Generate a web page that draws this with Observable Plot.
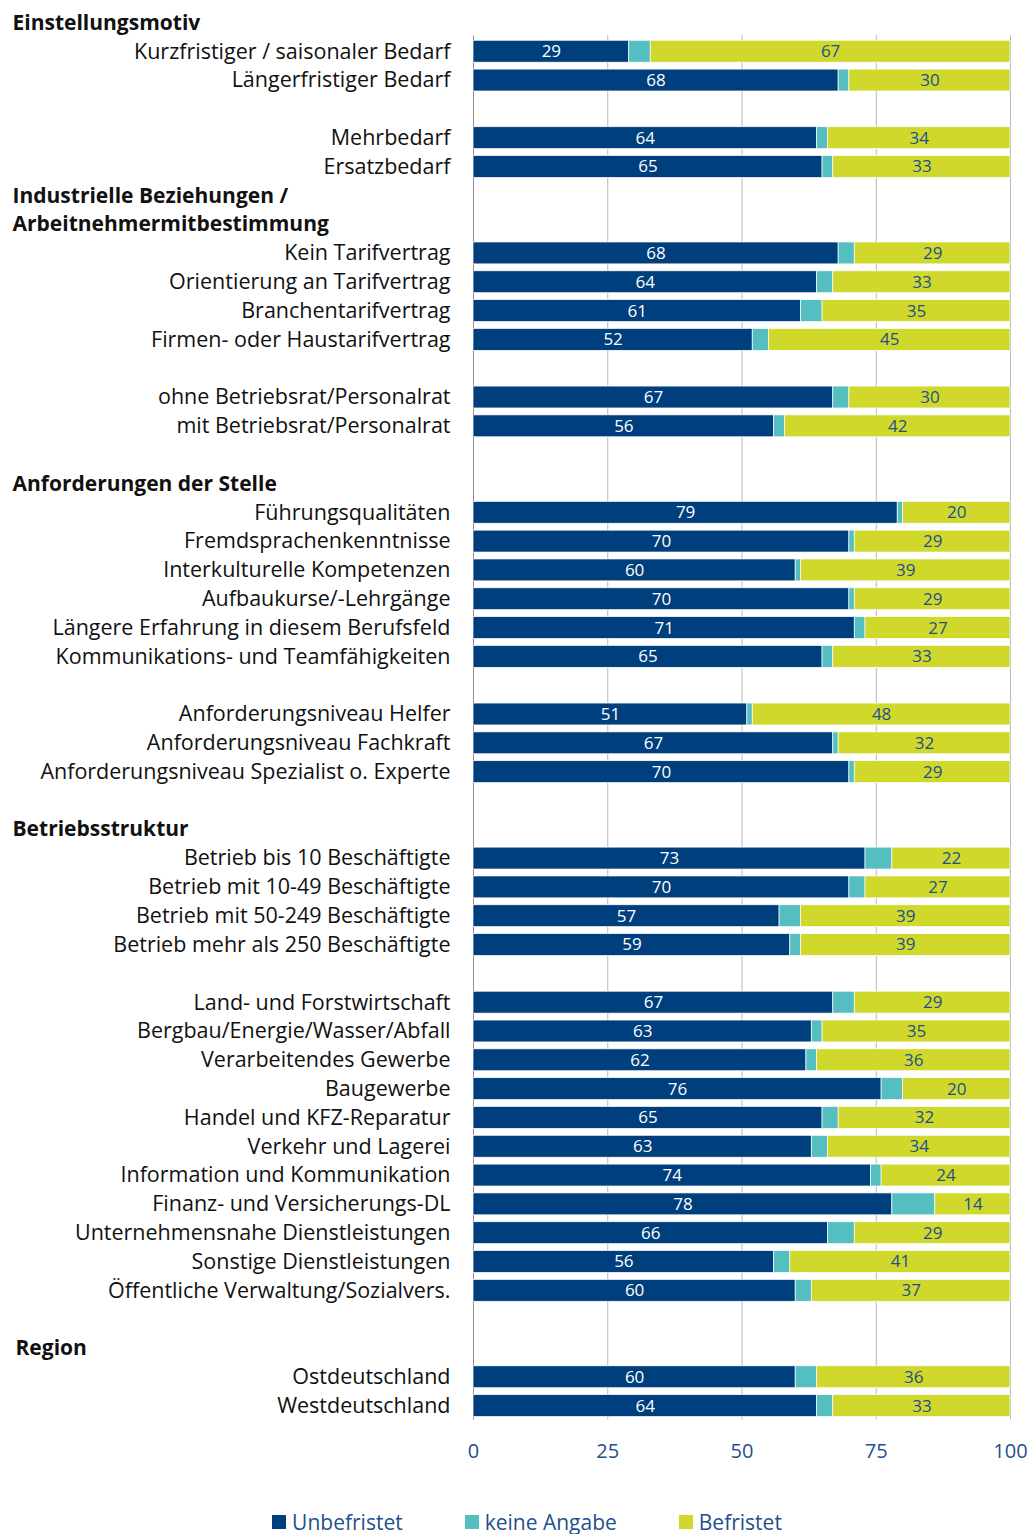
<!DOCTYPE html>
<html><head><meta charset="utf-8">
<script src="https://cdn.jsdelivr.net/npm/d3@7"></script>
<script src="https://cdn.jsdelivr.net/npm/@observablehq/plot@0.6"></script>
<style>
body{margin:0;background:#fff;font-family:"Open Sans",sans-serif;}
#chart svg{display:block;}
#legend{display:flex;justify-content:center;align-items:center;height:54px;margin-top:15px;padding-left:22px;box-sizing:border-box;}
.item{display:flex;align-items:center;font-size:21px;color:#1f4f8d;margin:0 31px;}
.sw{width:14px;height:14px;margin-right:6px;display:inline-block;}
</style></head><body><div id="chart"></div><div id="legend"></div>
<script>
// slot sequence: "H:" = group header, "" = empty spacer row, otherwise a category
const slots = [
  "H:Einstellungsmotiv",
  "Kurzfristiger / saisonaler Bedarf", "Längerfristiger Bedarf", "",
  "Mehrbedarf", "Ersatzbedarf",
  "H:Industrielle Beziehungen /", "H:Arbeitnehmermitbestimmung",
  "Kein Tarifvertrag", "Orientierung an Tarifvertrag", "Branchentarifvertrag", "Firmen- oder Haustarifvertrag", "",
  "ohne Betriebsrat/Personalrat", "mit Betriebsrat/Personalrat", "",
  "H:Anforderungen der Stelle",
  "Führungsqualitäten", "Fremdsprachenkenntnisse", "Interkulturelle Kompetenzen", "Aufbaukurse/-Lehrgänge",
  "Längere Erfahrung in diesem Berufsfeld", "Kommunikations- und Teamfähigkeiten", "",
  "Anforderungsniveau Helfer", "Anforderungsniveau Fachkraft", "Anforderungsniveau Spezialist o. Experte", "",
  "H:Betriebsstruktur",
  "Betrieb bis 10 Beschäftigte", "Betrieb mit 10-49 Beschäftigte", "Betrieb mit 50-249 Beschäftigte", "Betrieb mehr als 250 Beschäftigte", "",
  "Land- und Forstwirtschaft", "Bergbau/Energie/Wasser/Abfall", "Verarbeitendes Gewerbe", "Baugewerbe",
  "Handel und KFZ-Reparatur", "Verkehr und Lagerei", "Information und Kommunikation", "Finanz- und Versicherungs-DL",
  "Unternehmensnahe Dienstleistungen", "Sonstige Dienstleistungen", "Öffentliche Verwaltung/Sozialvers.", "",
  "H:Region",
  "Ostdeutschland", "Westdeutschland"
];

const categories = slots.filter(s => s !== "" && !s.startsWith("H:"));

const unbefristet = [29, 68, 64, 65, 68, 64, 61, 52, 67, 56, 79, 70, 60, 70, 71, 65, 51, 67, 70, 73, 70, 57, 59, 67, 63, 62, 76, 65, 63, 74, 78, 66, 56, 60, 60, 64];
const keineAngabe = [4, 2, 2, 2, 3, 3, 4, 3, 3, 2, 1, 1, 1, 1, 2, 2, 1, 1, 1, 5, 3, 4, 2, 4, 2, 2, 4, 3, 3, 2, 8, 5, 3, 3, 4, 3];
const befristet  = [67, 30, 34, 33, 29, 33, 35, 45, 30, 42, 20, 29, 39, 29, 27, 33, 48, 32, 29, 22, 27, 39, 39, 29, 35, 36, 20, 32, 34, 24, 14, 29, 41, 37, 36, 33];

const seriesNames = ["Unbefristet", "keine Angabe", "Befristet"];
const seriesColors = ["#003f7e", "#55bec0", "#cfd82b"];
const labelColors = ["#ffffff", null, "#1f4f8d"];
const xTicks = [0, 25, 50, 75, 100];

const slotKeys = slots.map((s, i) => s === "" ? `gap${i}` : s);
const series = [unbefristet, keineAngabe, befristet];
const rows = [];
categories.forEach((c, i) => {
  seriesNames.forEach((s, j) => rows.push({key: c, series: s, value: series[j][i], j}));
});
const headers = slots.filter(s => s.startsWith("H:")).map(s => ({key: s, label: s.slice(2)}));

const font = "'Open Sans', sans-serif";

const chart = Plot.plot({
  width: 1032,
  height: 1480,
  marginLeft: 473,
  marginRight: 22,
  marginTop: 8,
  marginBottom: 60,
  style: {fontFamily: font, background: "#fff"},
  x: {domain: [0, 100], axis: null, label: null},
  y: {domain: slotKeys, paddingInner: 0.24, paddingOuter: 0.12, axis: null},
  color: {domain: seriesNames, range: seriesColors},
  marks: [
    Plot.ruleX(xTicks, {x: d => d, y1: () => categories[0], y2: () => categories[categories.length - 1],
      insetTop: -5, insetBottom: -3, stroke: d => d === 0 ? "#8f8f8f" : "#b8b8b8", strokeWidth: 1}),
    Plot.barX(rows, {x: "value", y: "key", fill: "series", order: seriesNames, stroke: "#ffffff", strokeWidth: 0.7}),
    Plot.text(rows, Plot.stackX({x: "value", y: "key", z: "series", order: seriesNames,
      text: d => d.j === 1 ? null : String(d.value), fill: d => labelColors[d.j], fontSize: 17})),
    Plot.text(categories, {x: 0, y: d => d, text: d => d, dx: -23, textAnchor: "end", fontSize: 21.5, fill: "#111"}),
    Plot.text(headers, {filter: d => d.label !== "Region", x: 0, y: "key", text: "label", dx: -461,
      textAnchor: "start", fontSize: 21, fontWeight: "bold", fill: "#111"}),
    Plot.text(headers, {filter: d => d.label === "Region", x: 0, y: "key", text: "label", dx: -458,
      textAnchor: "start", fontSize: 21, fontWeight: "bold", fill: "#111"}),
    Plot.axisX({ticks: xTicks, tickSize: 0, tickPadding: 23, fontSize: 20, color: "#1f4f8d", anchor: "bottom", label: null})
  ]
});
document.getElementById("chart").append(chart);

const legend = document.getElementById("legend");
seriesNames.forEach((s, i) => {
  const it = document.createElement("div");
  it.className = "item";
  it.innerHTML = `<span class="sw" style="background:${seriesColors[i]}"></span>${s}`;
  legend.append(it);
});
</script></body></html>
